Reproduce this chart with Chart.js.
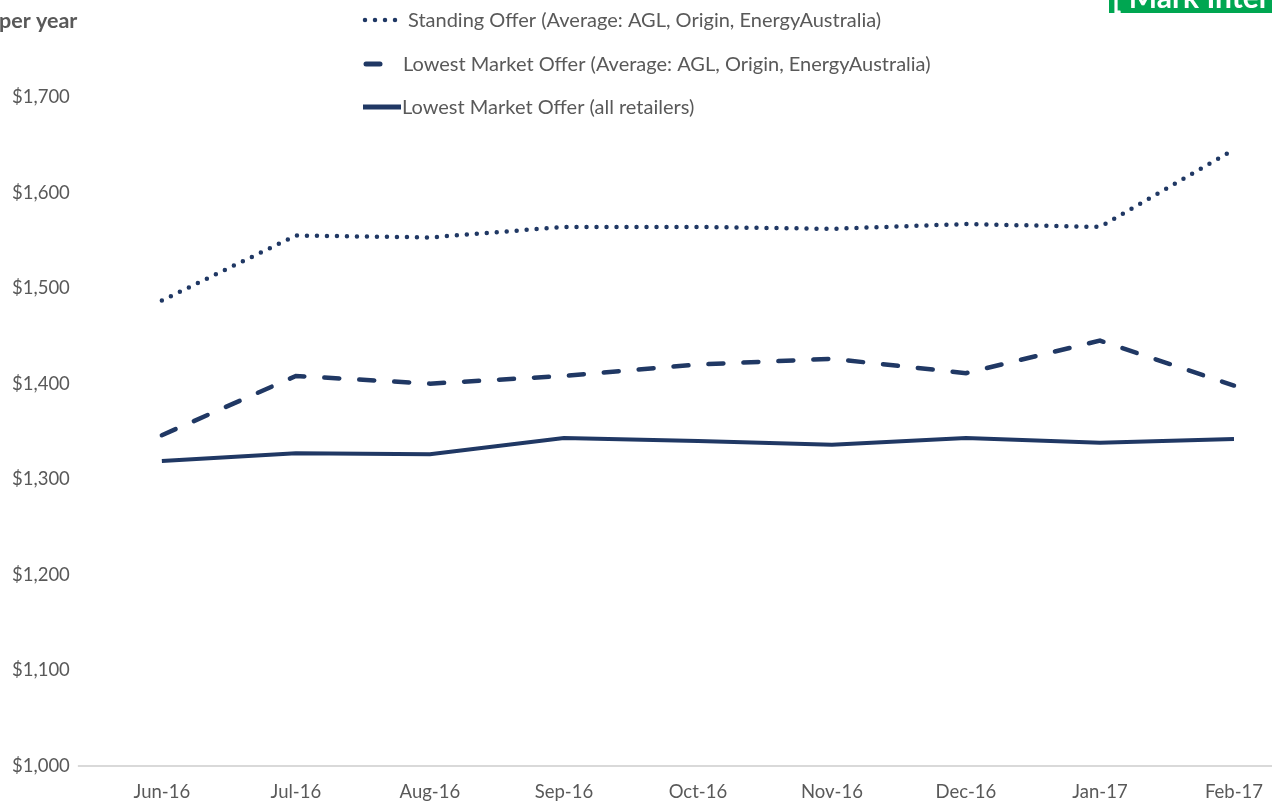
<!DOCTYPE html>
<html>
<head>
<meta charset="utf-8">
<script src="https://cdn.jsdelivr.net/npm/chart.js@4.4.1/dist/chart.umd.min.js"></script>
<style>
html,body{margin:0;padding:0;background:#fff;overflow:hidden;}
#wrap{position:absolute;left:0;top:0;width:1310px;height:821px;}
</style>
</head>
<body>
<div id="wrap"><canvas id="c"></canvas></div>
<script>
const categories = ['Jun-16','Jul-16','Aug-16','Sep-16','Oct-16','Nov-16','Dec-16','Jan-17','Feb-17'];
const standingOffer = [1487, 1555, 1553, 1564, 1564, 1562, 1567, 1564, 1645];
const lowestMarketAvg = [1346, 1408, 1400, 1408, 1420, 1426, 1411, 1445, 1398];
const lowestMarketAll = [1319, 1327, 1326, 1343, 1340, 1336, 1343, 1338, 1342];
const seriesNames = [
  'Standing Offer (Average: AGL, Origin, EnergyAustralia)',
  'Lowest Market Offer (Average: AGL, Origin, EnergyAustralia)',
  'Lowest Market Offer (all retailers)'
];
const yTicks = [1000, 1100, 1200, 1300, 1400, 1500, 1600, 1700];
const axisTitle = 'per year';
const badgeText = '[ Mark Inter';

const NAVY = '#203864';
const GREY = '#595959';
const FONT = 'Lato, "Open Sans", sans-serif';

const overlay = {
  id: 'overlay',
  afterDraw(chart) {
    const ctx = chart.ctx;
    ctx.save();
    // axis title (cut off at left)
    ctx.fillStyle = GREY;
    ctx.font = 'bold 21.5px ' + FONT;
    ctx.textBaseline = 'alphabetic';
    ctx.textAlign = 'left';
    ctx.fillText(axisTitle, -1, 28);
    // green badge (cut off at top/right)
    ctx.fillStyle = '#00A651';
    ctx.fillRect(1109, 0, 200, 13);
    ctx.fillStyle = '#fff';
    ctx.font = 'bold 30px ' + FONT;
    ctx.fillText(badgeText, 1112, 8);
    // legend
    const rows = [20, 64, 107];
    ctx.font = '20px ' + FONT;
    ctx.textBaseline = 'middle';
    ctx.fillStyle = GREY;
    ctx.fillText(seriesNames[0], 408, rows[0] + 1);
    ctx.fillText(seriesNames[1], 403, rows[1] + 1);
    ctx.fillText(seriesNames[2], 402, rows[2] + 1);
    ctx.strokeStyle = NAVY;
    ctx.lineWidth = 4.5;
    // dotted sample
    ctx.lineCap = 'round';
    ctx.setLineDash([0, 10]);
    ctx.beginPath(); ctx.moveTo(365, rows[0]); ctx.lineTo(400, rows[0]); ctx.stroke();
    // dash sample
    ctx.setLineDash([]);
    ctx.lineWidth = 5;
    ctx.beginPath(); ctx.moveTo(366, rows[1]); ctx.lineTo(380, rows[1]); ctx.stroke();
    // solid sample
    ctx.lineCap = 'butt';
    ctx.beginPath(); ctx.moveTo(363, rows[2]); ctx.lineTo(401, rows[2]); ctx.stroke();
    ctx.restore();
  }
};

new Chart(document.getElementById('c'), {
  type: 'line',
  data: {
    labels: categories,
    datasets: [
      { label: seriesNames[0], data: standingOffer, borderColor: NAVY, borderWidth: 4.5,
        borderDash: [0, 10], borderCapStyle: 'round', pointRadius: 0, tension: 0, fill: false },
      { label: seriesNames[1], data: lowestMarketAvg, borderColor: NAVY, borderWidth: 4.5,
        borderDash: [15, 20], borderCapStyle: 'round', pointRadius: 0, tension: 0, fill: false },
      { label: seriesNames[2], data: lowestMarketAll, borderColor: NAVY, borderWidth: 4,
        pointRadius: 0, tension: 0, fill: false }
    ]
  },
  options: {
    responsive: true,
    maintainAspectRatio: false,
    animation: false,
    layout: { padding: { top: 97, right: 9, bottom: 3, left: 4 } },
    plugins: { legend: { display: false }, tooltip: { enabled: false }, title: { display: false } },
    scales: {
      x: {
        offset: true,
        grid: { display: false, drawTicks: false },
        border: { display: false },
        ticks: { color: GREY, font: { family: FONT, size: 18.5 }, padding: 15, maxRotation: 0, autoSkip: false }
      },
      y: {
        min: 1000, max: 1700,
        afterBuildTicks(scale) { scale.ticks = yTicks.map(v => ({ value: v })); },
        grid: {
          color: (c) => (c.tick && c.tick.value === 1000) ? '#d9d9d9' : 'rgba(0,0,0,0)',
          lineWidth: 2,
          tickLength: 17,
          drawTicks: true
        },
        border: { display: false },
        ticks: {
          color: GREY, font: { family: FONT, size: 18.5 }, padding: 8,
          callback: (v) => '$' + Number(v).toLocaleString('en-US')
        }
      }
    }
  },
  plugins: [overlay]
});
</script>
</body>
</html>
